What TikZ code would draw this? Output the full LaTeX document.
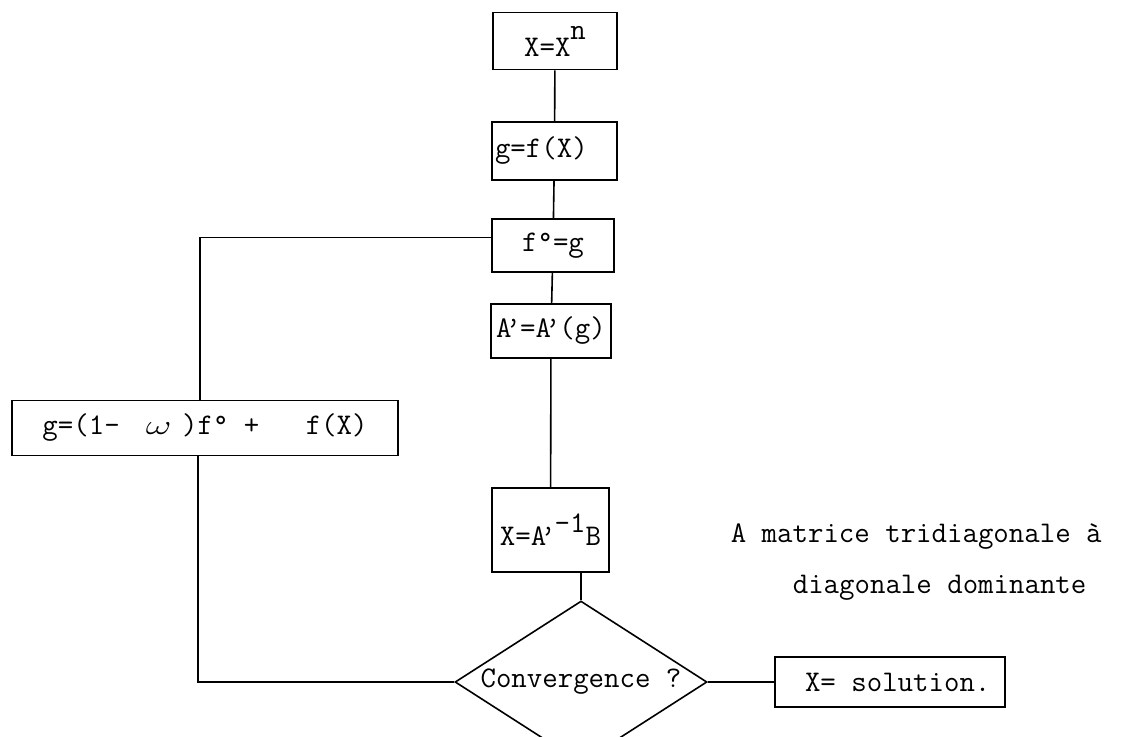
\documentclass[tikz,border=0pt]{standalone}
\usepackage{fontspec}
\usepackage{graphicx}
\setmonofont{Latin Modern Mono}
\usetikzlibrary{shapes.geometric}
\tikzset{
  box/.style={draw, line width=1.6pt, inner sep=0pt, font=\ttfamily\fontsize{30}{32}\selectfont},
  test/.style={draw, diamond, aspect=1.556, line width=1.6pt, inner sep=0pt, minimum width=252pt, minimum height=162pt, font=\ttfamily\fontsize{30}{32}\selectfont},
  note/.style={anchor=west, inner sep=0pt, font=\ttfamily\fontsize{30}{32}\selectfont}
}
\newcommand{\up}[2]{\raisebox{#1}{#2}}
\newcommand{\pr}{\kern-6pt’\kern-1pt}
\begin{document}
\begin{tikzpicture}[x=1pt,y=-1pt,line width=1.6pt]
  \useasboundingbox (0,0) rectangle (1131,736);
  \draw
    (555,41) node[box, minimum width=124pt, minimum height=57pt] (xn){X=X\up{17pt}{n}}
    (554.5,151) node[box, minimum width=125pt, minimum height=58pt] (gf){\makebox[119pt][l]{g=f(X)}}
    (553,245.5) node[box, minimum width=122pt, minimum height=53pt] (fg){f°=g}
    (551,331) node[box, minimum width=120pt, minimum height=54pt] (ap){A\pr=A\pr(g)}
    (550.5,530) node[box, minimum width=117pt, minimum height=84pt] (inv){X=A\pr\up{13pt}{-1}B}
    (205,428) node[box, minimum width=386pt, minimum height=55pt] (relax){g=(1-~\makebox[47pt]{\scalebox{1.6}[1.1]{$\omega$}})f°~+~~~f(X)}
    (581,682) node[test] (conv){Convergence ?}
    (890,682) node[box, minimum width=230pt, minimum height=50pt] (sol){~X= solution.}
    (730,537) node[note] (mat1){A matrice tridiagonale à}
    (792,588) node[note] (mat2){diagonale dominante};
  \begin{scope}[-]
    \draw (xn) to (gf);
    \draw (gf) to (fg);
    \draw (fg) to (ap);
    \draw (ap) to (inv);
    \draw (inv.south -| conv.north) to (conv.north);
    \draw (conv) to (sol);
    \draw (conv.west) -| ([xshift=-7pt]relax.south);
    \draw ([xshift=-5pt]relax.north) |- ([yshift=8pt]fg.west);
  \end{scope}
\end{tikzpicture}
\end{document}
